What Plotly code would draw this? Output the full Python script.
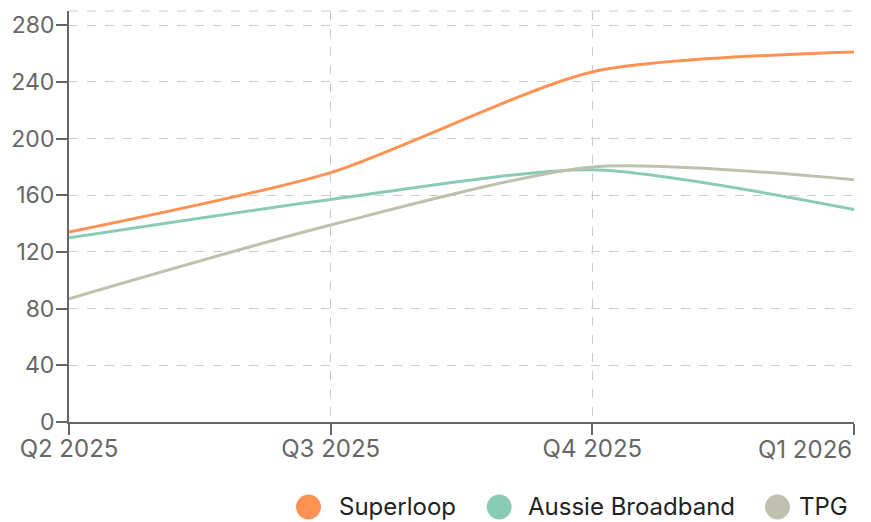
import plotly.graph_objects as go

quarters = ["Q2 2025", "Q3 2025", "Q4 2025", "Q1 2026"]
superloop = [134, 176, 247, 261]
aussie = [130, 157, 178, 150]
tpg = [87, 139, 180, 171]
y_ticks = [0, 40, 80, 120, 160, 200, 240, 280]

series = [
    ("Superloop", superloop, "#FF9152"),
    ("Aussie Broadband", aussie, "#8ACBB5"),
    ("TPG", tpg, "#BFC1AE"),
]
# legend placement (paper fractions of the plot area)
legend_circle_x = [0.3051, 0.5480, 0.9025]
legend_text_x = [0.3415, 0.5820, 0.9275]
legend_y = -0.2068

fig = go.Figure()
for name, vals, col in series:
    fig.add_trace(go.Scatter(x=quarters, y=vals, mode="lines", name=name,
                             line=dict(color=col, width=3, shape="spline", smoothing=0.7),
                             showlegend=False))

shapes = [dict(type="line", xref="paper", yref="paper", x0=0, x1=1, y0=1, y1=1,
               line=dict(color="#cccccc", width=1.2, dash="dash"))]
annotations = [dict(x=quarters[-1], y=0, xref="x", yref="paper", text=quarters[-1],
                    xanchor="right", yanchor="top", yshift=-11, showarrow=False,
                    font=dict(size=24, color="#666666"))]
for (name, vals, col), cx, tx in zip(series, legend_circle_x, legend_text_x):
    shapes.append(dict(type="circle", xref="paper", yref="paper",
                       xsizemode="pixel", ysizemode="pixel",
                       xanchor=cx, yanchor=legend_y, x0=-12.5, x1=12.5, y0=-12.5, y1=12.5,
                       fillcolor=col, line=dict(width=0)))
    annotations.append(dict(x=tx, y=legend_y, xref="paper", yref="paper", text=name,
                            xanchor="left", yanchor="middle", showarrow=False,
                            font=dict(size=24, color="#222222")))

ticktext = quarters[:-1] + [""]

fig.update_layout(
    width=863, height=514,
    margin=dict(l=61, r=17, t=3, b=100),
    paper_bgcolor="white", plot_bgcolor="white",
    font=dict(family="Inter, sans-serif", size=24, color="#666666"),
    showlegend=False,
    shapes=shapes,
    annotations=annotations,
)
fig.update_xaxes(
    showline=True, linecolor="#666666", linewidth=2,
    showgrid=True, gridcolor="#cccccc", griddash="dash", gridwidth=1.2,
    ticks="outside", ticklen=11, tickcolor="#666666", tickwidth=2,
    ticklabelstandoff=-7,
    range=[0, 3], zeroline=False, automargin=False,
    tickvals=quarters, ticktext=ticktext,
)
fig.update_yaxes(
    showline=True, linecolor="#666666", linewidth=2,
    showgrid=True, gridcolor="#cccccc", griddash="dash", gridwidth=1.2,
    ticks="outside", ticklen=11, tickcolor="#666666", tickwidth=2,
    ticklabelstandoff=-3, tickfont=dict(size=23),
    range=[0, 290], tickvals=y_ticks, zeroline=False, automargin=False,
)
fig.write_html("out.html")
